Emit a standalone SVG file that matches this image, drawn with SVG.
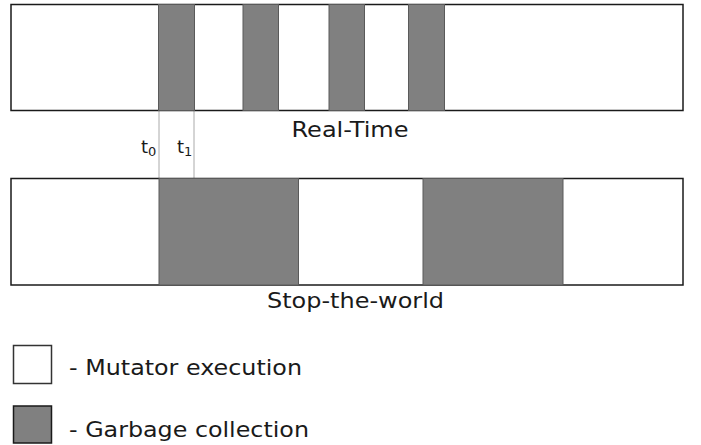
<svg xmlns="http://www.w3.org/2000/svg" width="701" height="445" viewBox="0 0 701 445">
  <style>
    .bar { fill: #ffffff; stroke: #1a1a1a; stroke-width: 1.5; }
    .gc { fill: #808080; stroke: #5a5a5a; stroke-width: 1; }
    .mut { fill: #ffffff; stroke: #333333; stroke-width: 1.5; }
    .legend-gc { fill: #808080; stroke: #1a1a1a; stroke-width: 1.5; }
    .mark { stroke: #555555; stroke-width: 1; stroke-dasharray: 1 1; fill: none; }
    text { font-family: "DejaVu Sans", sans-serif; fill: #1a1a1a; }
    .title { font-size: 21px; text-anchor: middle; }
    .lbl { font-size: 22px; }
    .t { font-size: 18px; }
    .sub { font-size: 13px; }
  </style>

  <!-- Real-time collector timeline -->
  <g id="realtime">
    <rect class="bar" x="11" y="4.5" width="672" height="106"/>
    <rect class="gc" x="158.5" y="4.5" width="36" height="106"/>
    <rect class="gc" x="243" y="4.5" width="35.5" height="106"/>
    <rect class="gc" x="329" y="4.5" width="35.5" height="106"/>
    <rect class="gc" x="408.5" y="4.5" width="36" height="106"/>
    <text class="title" x="350" y="137" textLength="117" lengthAdjust="spacingAndGlyphs">Real-Time</text>
  </g>

  <!-- Pause boundaries -->
  <g id="connectors">
    <line class="mark" x1="159" y1="110.5" x2="159" y2="178"/>
    <line class="mark" x1="194" y1="110.5" x2="194" y2="178"/>
  </g>

  <g id="t0">
    <text class="t" x="141" y="153">t<tspan class="sub" dy="3">0</tspan></text>
  </g>
  <g id="t1">
    <text class="t" x="177" y="153">t<tspan class="sub" dy="3">1</tspan></text>
  </g>

  <!-- Stop-the-world collector timeline -->
  <g id="stoptheworld">
    <rect class="bar" x="11" y="178.5" width="672" height="106.5"/>
    <rect class="gc" x="159" y="178.5" width="139.5" height="106.5"/>
    <rect class="gc" x="423" y="178.5" width="140" height="106.5"/>
    <text class="title" x="355.5" y="308" textLength="177" lengthAdjust="spacingAndGlyphs">Stop-the-world</text>
  </g>

  <!-- Legend -->
  <g id="legend-mutator">
    <rect class="mut" x="13.5" y="345.5" width="38" height="38"/>
    <text class="lbl" x="69" y="375" textLength="233" lengthAdjust="spacingAndGlyphs">- Mutator execution</text>
  </g>
  <g id="legend-gc">
    <rect class="legend-gc" x="13.5" y="406" width="38" height="37"/>
    <text class="lbl" x="69" y="437" textLength="240" lengthAdjust="spacingAndGlyphs">- Garbage collection</text>
  </g>
</svg>
